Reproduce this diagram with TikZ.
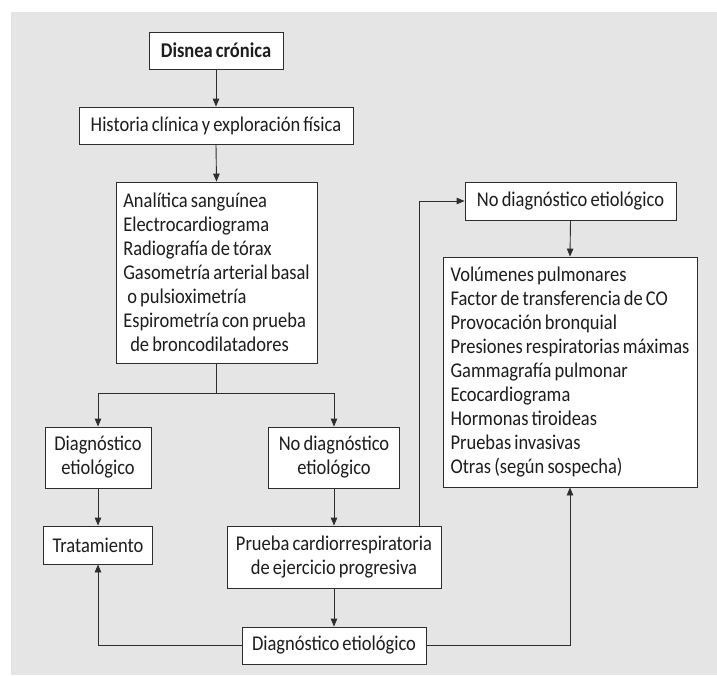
\documentclass[tikz,border=0pt]{standalone}
\usepackage{fontspec}
\setmainfont{Carlito}[FakeStretch=0.88, WordSpace=0.75]
\usetikzlibrary{arrows.meta}
\definecolor{bg}{RGB}{229,229,229}
\definecolor{ln}{RGB}{45,45,45}
\definecolor{tx}{RGB}{30,28,28}
\begin{document}
\begin{tikzpicture}[x=1pt,y=-1pt,
  box/.style={draw=ln, line width=0.9pt, fill=white, inner sep=0pt, text=tx,
    font=\fontsize{21}{24}\selectfont, align=center},
  conn/.style={draw=ln, line width=0.9pt},
  arr/.style={conn, -{Triangle[length=8pt,width=6.5pt]}}]
\useasboundingbox (0,0) rectangle (717,675);
\fill[bg] (11,12) rectangle (717,675);

\node[box, minimum width=134pt, minimum height=37pt, font=\fontsize{21}{24}\selectfont\bfseries] (b1) at (216,50.5) {Disnea crónica};
\node[box, minimum width=274pt, minimum height=37pt] (b2) at (216,125.5) {Historia clínica y exploración física};
\node[box, minimum width=201pt, minimum height=181pt, align=left] (b3) at (216.5,272.5)
  {Analítica sanguínea\\Electrocardiograma\\Radiografía de tórax\\Gasometría arterial basal\\\hspace*{4pt}o pulsioximetría\\Espirometría con prueba\\\hspace*{7pt}de broncodilatadores};
\node[box, minimum width=106pt, minimum height=61pt] (dx) at (98,457.5) {Diagnóstico\\etiológico};
\node[box, minimum width=131pt, minimum height=61pt] (nd) at (334,457.5) {No diagnóstico\\etiológico};
\node[box, minimum width=109pt, minimum height=38pt] (tr) at (98,545) {Tratamiento};
\node[box, minimum width=214pt, minimum height=62pt] (pr) at (334,557) {Prueba cardiorrespiratoria\\de ejercicio progresiva};
\node[box, minimum width=184pt, minimum height=37pt] (de) at (334,645.5) {Diagnóstico etiológico};
\node[box, minimum width=211pt, minimum height=38pt] (nd2) at (570.5,201) {No diagnóstico etiológico};
\node[box, minimum width=254pt, minimum height=230pt, align=left] (big) at (570,372)
  {Volúmenes pulmonares\\Factor de transferencia de CO\\Provocación bronquial\\Presiones respiratorias máximas\\Gammagrafía pulmonar\\Ecocardiograma\\Hormonas tiroideas\\Pruebas invasivas\\Otras (según sospecha)};

\draw[arr] (b1.south) -- (b2.north);
\draw[arr] (b2.south) -- (b3.north);
\draw[conn] (b3.south) -- ++(0,30) coordinate (split);
\draw[arr] (split) -| (dx.north);
\draw[arr] (split) -| (nd.north);
\draw[arr] (dx.south) -- (tr.north);
\draw[arr] (nd.south) -- (pr.north);
\draw[arr] (pr.south) -- (de.north);
\draw[arr] (de.west) -| (tr.south);
\draw[arr] (de.east) -| (big.south);
\draw[arr] ([xshift=85pt]pr.north) |- (nd2.west);
\draw[arr] (nd2.south) -- (big.north);
\end{tikzpicture}
\end{document}
